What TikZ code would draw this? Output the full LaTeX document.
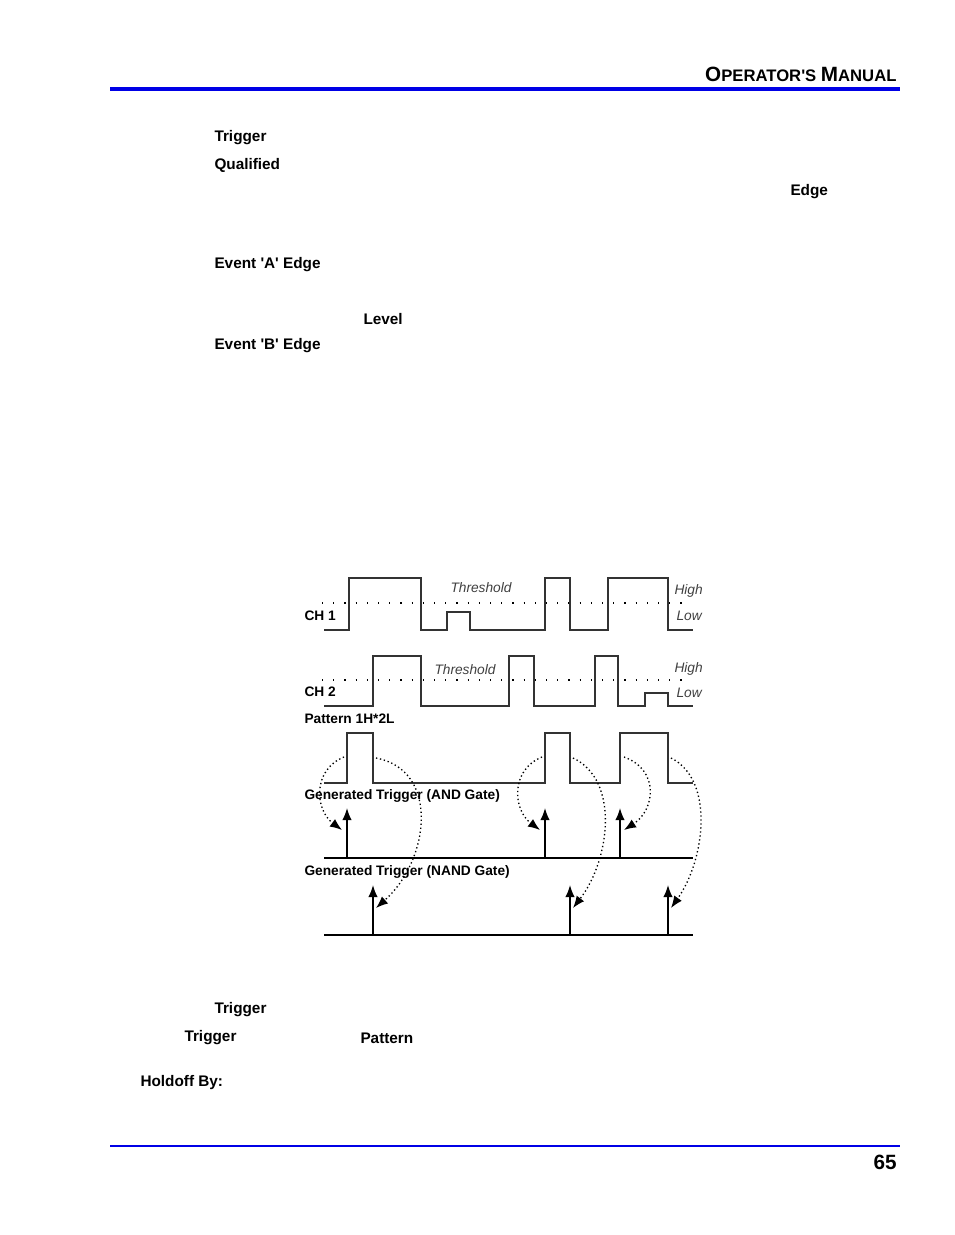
\documentclass[tikz,border=0pt]{standalone}
\usepackage{fontspec}
\setmainfont{Liberation Sans}
\usepackage{textcomp}
\definecolor{hdrblue}{RGB}{0,0,230}
\tikzset{every picture/.style={line width=0.75pt}}
\tikzset{
  lbl/.style={anchor=west,inner sep=0pt,font=\fontsize{11.5}{13}\selectfont\bfseries},
  dlbl/.style={anchor=west,inner sep=0pt,font=\fontsize{10.3}{12}\selectfont\bfseries},
  ilbl/.style={anchor=west,inner sep=0pt,font=\fontsize{10.3}{12}\selectfont\itshape,text=black!75},
  wave/.style={line width=1.3pt,black!80},
  thr/.style={line width=1pt,dash pattern=on 0.9pt off 7.5pt},
  trig/.style={line width=1.1pt,-{Latex[length=9pt,width=7pt]}},
  loop/.style={dotted,line width=1pt,-{Latex[length=9pt,width=7pt]}}
}
\usetikzlibrary{arrows.meta}
\begin{document}
\begin{tikzpicture}[x=0.75pt,y=0.75pt,yscale=-1,xscale=1]
\useasboundingbox (0,0) rectangle (954,1235);

% header
\draw [hdrblue,line width=3pt] (110,89) -- (900,89) ;
\node [anchor=base east,inner sep=0pt,font=\fontsize{15.5}{17}\selectfont\bfseries] (hdr) at (897,81) {O\fontsize{12.5}{14}\selectfont PERATOR\textquotesingle S \fontsize{15.5}{17}\selectfont M\fontsize{12.5}{14}\selectfont ANUAL};
\draw [hdrblue,line width=0.8pt] (110,1146) -- (900,1146) ;
\node [anchor=base east,inner sep=0pt,font=\fontsize{15.5}{17}\selectfont\bfseries] (pg) at (897,1169) {65};

% body labels
\node [lbl] (t1) at (214,138) {Trigger};
\node [lbl] (t2) at (214,165) {Qualified};
\node [lbl] (t3) at (790,192) {Edge};
\node [lbl] (t4) at (214,265) {Event \textquotesingle A\textquotesingle{} Edge};
\node [lbl] (t5) at (363,319) {Level};
\node [lbl] (t6) at (214,346) {Event \textquotesingle B\textquotesingle{} Edge};
\node [lbl] (t7) at (214,1010) {Trigger};
\node [lbl] (t8) at (184,1038) {Trigger};
\node [lbl] (t9) at (360,1038) {Pattern};
\node [lbl] (t10) at (140,1083) {Holdoff By:};

% CH 1
\draw [thr] (322,603) -- (690,603) ;
\draw [wave] (324,630) -| (349,578) -| (421,630) -| (447,612) -| (470,630) -| (545,578) -| (570,630) -| (608,578) -| (668,630) -- (693,630) ;
\node [dlbl] (ch1) at (304,616) {CH 1};
\node [ilbl] (th1) at (450,588) {Threshold};
\node [ilbl] (hi1) at (674,591) {High};
\node [ilbl] (lo1) at (676,616) {Low};

% CH 2
\draw [thr] (322,680) -- (690,680) ;
\draw [wave] (324,706) -| (373,656) -| (421,706) -| (509,656) -| (534,706) -| (595,656) -| (618,706) -| (645,693) -| (668,706) -- (693,706) ;
\node [dlbl] (ch2) at (304,692) {CH 2};
\node [ilbl] (th2) at (434,670) {Threshold};
\node [ilbl] (hi2) at (674,669) {High};
\node [ilbl] (lo2) at (676,693) {Low};

% pattern
\node [dlbl] (pat) at (304,719) {Pattern 1H*2L};
\draw [wave] (324,783) -| (347,733) -| (373,783) -| (545,733) -| (570,783) -| (620,733) -| (668,783) -- (693,783) ;

% AND gate
\node [dlbl] (andl) at (304,796) {Generated Trigger (AND Gate)};
\draw [line width=1.1pt] (324,858) -- (693,858) ;
\foreach \x/\n in {347/a1,545/a2,620/a3} {
  \coordinate (\n) at (\x,858) ;
  \draw [trig] (\n) -- ++(0,-50) ;
}

% NAND gate
\node [dlbl] (nandl) at (304,872) {Generated Trigger (NAND Gate)};
\draw [line width=1.1pt] (324,935) -- (693,935) ;
\foreach \x/\n in {373/n1,570/n2,668/n3} {
  \coordinate (\n) at (\x,935) ;
  \draw [trig] (\n) -- ++(0,-50) ;
}

% cause arrows
\draw [loop] (344,757) .. controls (312,770) and (315,810) .. (342,830) ;
\draw [loop] (376,758) .. controls (440,770) and (430,860) .. (376,908) ;
\draw [loop] (542,757) .. controls (510,770) and (513,810) .. (540,830) ;
\draw [loop] (573,758) .. controls (620,780) and (610,860) .. (573,908) ;
\draw [loop] (624,757) .. controls (660,770) and (655,810) .. (624,830) ;
\draw [loop] (671,758) .. controls (715,780) and (705,860) .. (671,908) ;

\end{tikzpicture}
\end{document}
